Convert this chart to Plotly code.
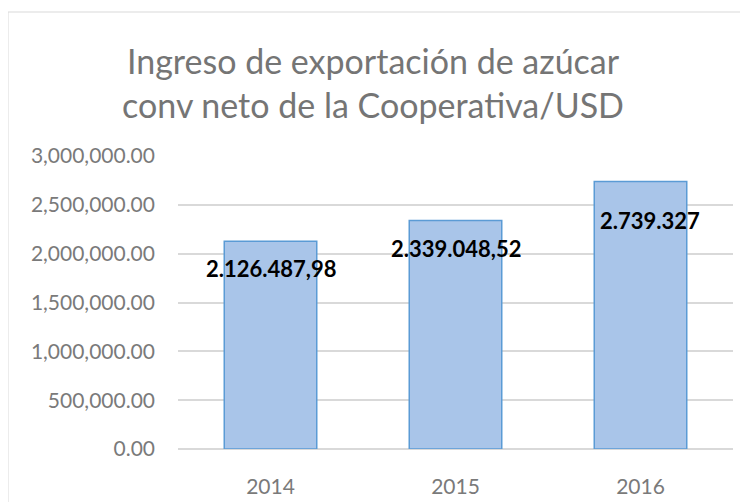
import plotly.graph_objects as go

years = ["2014", "2015", "2016"]
values = [2126487.98, 2339048.52, 2739327]
labels = ["2.126.487,98", "2.339.048,52", "2.739.327"]
label_yshift = [-27, -28, -39]
label_xshift = [0, 0, 9]
y_ticks = [0, 500000, 1000000, 1500000, 2000000, 2500000, 3000000]

FONT = "Lato, Open Sans, sans-serif"

fig = go.Figure()
fig.add_trace(go.Bar(
    x=years, y=values,
    marker=dict(color="#a9c5e9", line=dict(color="#5b9bd5", width=1.5)),
    hoverinfo="skip",
))

# category axis: annotation x given as the category index
for i, (v, t, ys, xs) in enumerate(zip(values, labels, label_yshift, label_xshift)):
    fig.add_annotation(x=i, y=v, xref="x", yref="y", text="<b>" + t + "</b>", showarrow=False,
                       yshift=ys, xshift=xs, font=dict(family=FONT, size=22, color="#000000"))

L, R, T, B = 170, 23, 148, 61
W, H = 748, 502
pw, ph = W - L - R, H - T - B
fig.add_shape(type="rect", xref="paper", yref="paper",
              x0=(0 - L) / pw, x1=(760 - L) / pw,
              y0=(H - B - 515) / ph, y1=(H - B - 4) / ph,
              line=dict(color="#d9d9d9", width=1), fillcolor="rgba(0,0,0,0)", layer="below")

fig.update_layout(
    width=W, height=H,
    margin=dict(l=L, r=R, t=T, b=B, autoexpand=False),
    paper_bgcolor="white", plot_bgcolor="white",
    showlegend=False,
    title=dict(text="Ingreso de exportación de azúcar<br>conv neto de la Cooperativa/USD",
               x=365 / W, xref="container", xanchor="center",
               y=1 - 66 / H, yref="container", yanchor="middle",
               font=dict(family=FONT, size=34, color="#757575")),
    xaxis=dict(type="category", range=[-0.5, 2.5], showgrid=False, showline=False, ticks="",
               ticklabelstandoff=23,
               tickfont=dict(family=FONT, size=21, color="#7a7a7a")),
    yaxis=dict(range=[0, 3000000], tickvals=y_ticks, tickformat=",.2f",
               showgrid=True, gridcolor="#d9d9d9", gridwidth=1.5,
               zeroline=True, zerolinecolor="#d9d9d9", zerolinewidth=1.5,
               showline=False, ticks="", ticklabelstandoff=22,
               tickfont=dict(family=FONT, size=21, color="#7a7a7a")),
    bargap=0.5,
)

fig.write_html("out.html")
